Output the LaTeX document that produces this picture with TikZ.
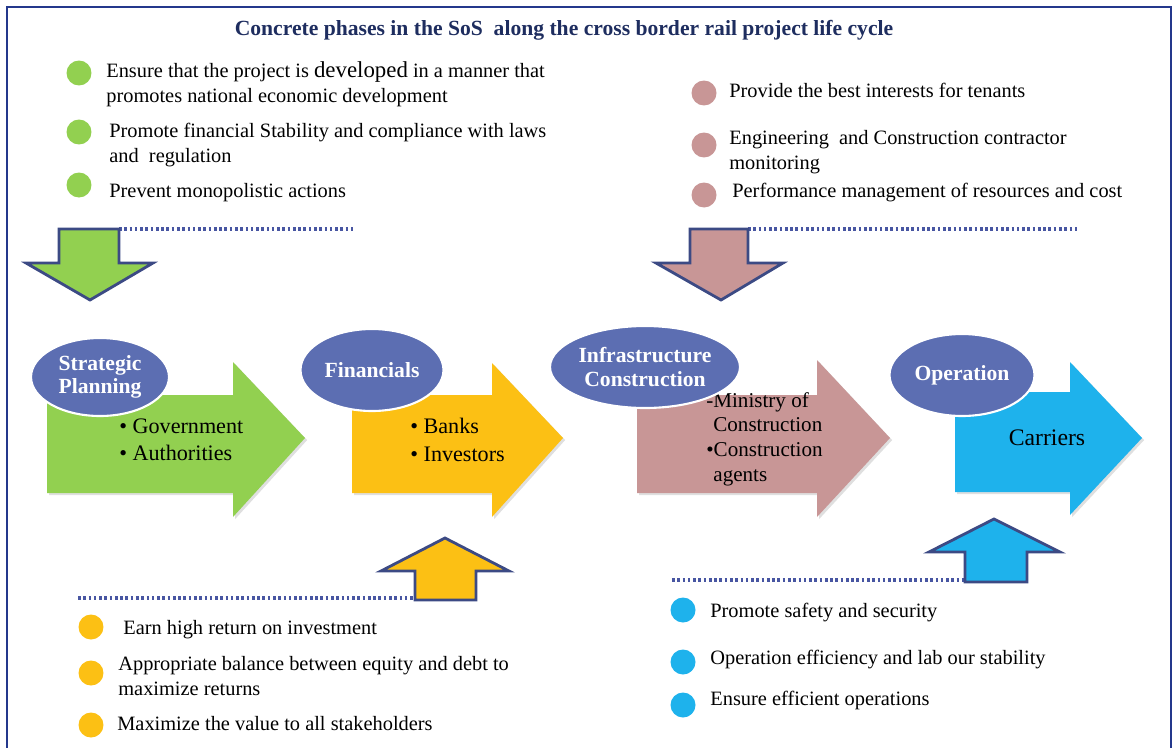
\documentclass[tikz,border=0pt]{standalone}
\usepackage{fontspec}
\setmainfont{Liberation Serif}
\usetikzlibrary{shapes.geometric,shadows}

\definecolor{framenavy}{RGB}{36,56,140}
\definecolor{titlenavy}{RGB}{30,45,95}
\definecolor{phaseblue}{RGB}{92,110,178}
\definecolor{plangreen}{RGB}{146,208,80}
\definecolor{fingold}{RGB}{252,192,20}
\definecolor{buildpink}{RGB}{200,150,150}
\definecolor{opcyan}{RGB}{30,178,236}
\definecolor{edgenavy}{RGB}{60,74,132}
\definecolor{dotblue}{RGB}{72,86,162}

\begin{document}
\begin{tikzpicture}[
 x=0.02cm, y=-0.02cm,
 font=\fontsize{11.6}{14.5}\selectfont,
 phase/.style={ellipse,fill=phaseblue,draw=white,line width=1.2pt,text=white,
   align=center,inner sep=0pt,font=\fontsize{12.3}{13.5}\selectfont\bfseries},
 bigarrow/.style={drop shadow={shadow xshift=1.2pt,shadow yshift=-1.2pt,opacity=0.25}},
 blockarrow/.style={draw=edgenavy,line width=1.6pt,line join=miter},
 dot/.style={circle,minimum size=0.5cm,inner sep=0pt},
 item/.style={anchor=west,align=left,inner sep=0pt},
 inarrow/.style={anchor=west,align=left,inner sep=0pt,font=\fontsize{12.6}{15.5}\selectfont},
 divider/.style={dotblue,line width=1.9pt,dash pattern=on 1.5pt off 1.5pt}
]
\useasboundingbox (0,0) rectangle (1176,747);
\draw [framenavy,line width=1.5pt] (7,7) rectangle (1171,760);

\node (title) [font=\fontsize{12.3}{14}\selectfont\bfseries,text=titlenavy] at (564,30)
 {Concrete phases in the SoS\ \ along the cross border rail project life cycle};

% phase arrows
\fill [plangreen,bigarrow] (47,395) -- (233,395) -- (233,362) -- (305,438) -- (233,517) -- (233,493) -- (47,493) -- cycle;
\fill [fingold,bigarrow] (352,395) -- (492,395) -- (492,363) -- (563,438) -- (492,517) -- (492,493) -- (352,493) -- cycle;
\fill [buildpink,bigarrow] (637,395) -- (817,395) -- (817,360) -- (890,438) -- (817,517) -- (817,493) -- (637,493) -- cycle;
\fill [opcyan,bigarrow] (955,392) -- (1070,392) -- (1070,362) -- (1142,438) -- (1070,515) -- (1070,492) -- (955,492) -- cycle;

\node (planwho) [inarrow] at (119,440) {\textbullet\ Government\\\textbullet\ Authorities};
\node (finwho) [inarrow] at (410,440) {\textbullet\ Banks\\\textbullet\ Investors};
\node (buildwho) [inarrow,font=\fontsize{12}{14}\selectfont] at (706,439)
 {-Ministry of\\\hspace*{4pt}Construction\\\textbullet Construction\\\hspace*{4pt}agents};
\node (opswho) [font=\fontsize{13.5}{15}\selectfont] at (1047,438) {Carriers};

% phase names
\node (plan) [phase,minimum width=2.76cm,minimum height=1.56cm] at (100,377) {Strategic\\Planning};
\node (fin) [phase,minimum width=2.86cm,minimum height=1.64cm] at (372,370) {Financials};
\node (build) [phase,minimum width=3.8cm,minimum height=1.64cm] at (645,367) {Infrastructure\\Construction};
\node (ops) [phase,minimum width=2.9cm,minimum height=1.64cm] at (962,375) {Operation};

% strategic planning goals
\node (pdot1) [dot,fill=plangreen] at (79,73) {};
\node (pdot2) [dot,fill=plangreen] at (79,132) {};
\node (pdot3) [dot,fill=plangreen] at (79,185) {};
\node (pgoal1) [item] at (106,84) {Ensure that the project is {\fontsize{13}{14.5}\selectfont developed} in a manner that\\promotes national economic development};
\node (pgoal2) [item] at (109,145) {Promote financial Stability and compliance with laws\\and\ \ regulation};
\node (pgoal3) [item] at (109,193) {Prevent monopolistic actions};
\coordinate (pline-a) at (119,229);
\coordinate (pline-b) at (353,229);
\draw [divider] (pline-a) -- (pline-b);
\draw [blockarrow,fill=plangreen] (59,229) -- (119,229) -- (119,263) -- (153,263) -- (90,300) -- (26,263) -- (59,263) -- cycle;

% construction goals
\node (cdot1) [dot,fill=buildpink] at (704,93) {};
\node (cdot2) [dot,fill=buildpink] at (704,145) {};
\node (cdot3) [dot,fill=buildpink] at (704,195) {};
\node (cgoal1) [item] at (729,90) {Provide the best interests for tenants};
\node (cgoal2) [item] at (729,152) {Engineering\ \ and Construction contractor\\monitoring};
\node (cgoal3) [item] at (732,193) {Performance management of resources and cost};
\coordinate (cline-a) at (748,229);
\coordinate (cline-b) at (1078,229);
\draw [divider] (cline-a) -- (cline-b);
\draw [blockarrow,fill=buildpink] (690,229) -- (748,229) -- (748,263) -- (783,263) -- (721,300) -- (656,263) -- (690,263) -- cycle;

% financial goals
\coordinate (fline-a) at (78,598);
\coordinate (fline-b) at (415,598);
\draw [divider] (fline-a) -- (fline-b);
\draw [blockarrow,fill=fingold] (415,600) -- (476,600) -- (476,571) -- (509,571) -- (445,538) -- (381,571) -- (415,571) -- cycle;
\node (fdot1) [dot,fill=fingold] at (91,627) {};
\node (fdot2) [dot,fill=fingold] at (91,673) {};
\node (fdot3) [dot,fill=fingold] at (91,725) {};
\node (fgoal1) [item] at (123,630) {Earn high return on investment};
\node (fgoal2) [item] at (118,676) {Appropriate balance between equity and debt to\\maximize returns};
\node (fgoal3) [item] at (117,724) {Maximize the value to all stakeholders};

% operation goals
\coordinate (oline-a) at (672,580);
\coordinate (oline-b) at (965,580);
\draw [divider] (oline-a) -- (oline-b);
\draw [blockarrow,fill=opcyan] (965,582) -- (1027,582) -- (1027,552) -- (1060,552) -- (994,519) -- (929,552) -- (965,552) -- cycle;
\node (odot1) [dot,fill=opcyan] at (683,610) {};
\node (odot2) [dot,fill=opcyan] at (683,662) {};
\node (odot3) [dot,fill=opcyan] at (683,705) {};
\node (ogoal1) [item] at (710,613) {Promote safety and security};
\node (ogoal2) [item] at (710,660) {Operation efficiency and lab our stability};
\node (ogoal3) [item] at (710,700) {Ensure efficient operations};
\end{tikzpicture}
\end{document}
